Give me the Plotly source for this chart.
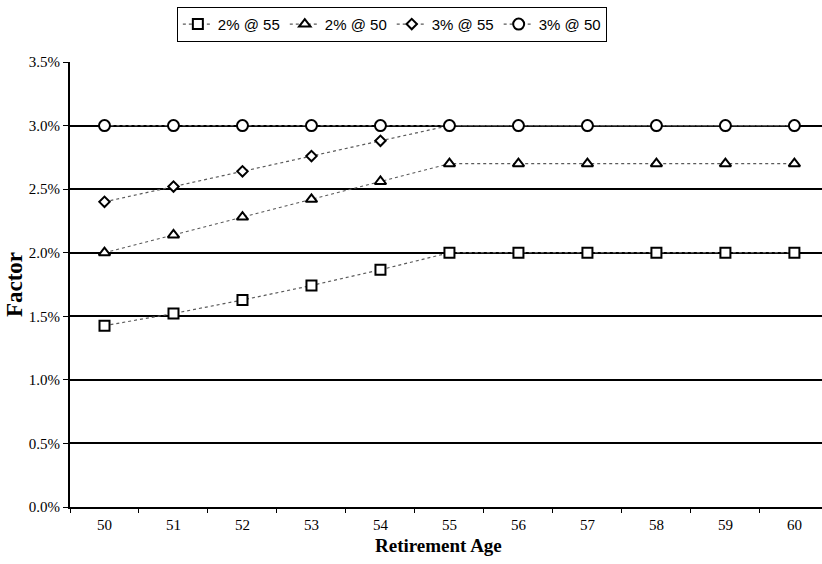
import plotly.graph_objects as go

# Retirement ages on the category axis
ages = ["50", "51", "52", "53", "54", "55", "56", "57", "58", "59", "60"]

# Benefit factor per year of service, by formula
factor_2_at_55 = [0.01426, 0.01522, 0.01628, 0.01742, 0.01866, 0.020,
                  0.020, 0.020, 0.020, 0.020, 0.020]
factor_2_at_50 = [0.0200, 0.0214, 0.0228, 0.0242, 0.0256, 0.0270,
                  0.0270, 0.0270, 0.0270, 0.0270, 0.0270]
factor_3_at_55 = [0.0240, 0.0252, 0.0264, 0.0276, 0.0288, 0.0300,
                  0.0300, 0.0300, 0.0300, 0.0300, 0.0300]
factor_3_at_50 = [0.0300, 0.0300, 0.0300, 0.0300, 0.0300, 0.0300,
                  0.0300, 0.0300, 0.0300, 0.0300, 0.0300]

series = [
    ("2% @ 55", factor_2_at_55, "square", 10),
    ("2% @ 50", factor_2_at_50, "triangle-up", 10),
    ("3% @ 55", factor_3_at_55, "diamond", 8),
    ("3% @ 50", factor_3_at_50, "circle", 11),
]

fig = go.Figure()
for name, values, symbol, size in series:
    fig.add_trace(go.Scatter(
        x=ages, y=values, name=name, mode="lines+markers",
        line=dict(color="#5a5a5a", width=1.2, dash="dot"),
        marker=dict(symbol=symbol, size=size, color="white",
                    line=dict(color="black", width=2)),
    ))

serif = "Liberation Serif"

fig.update_layout(
    width=822, height=564,
    margin=dict(l=70, r=0, t=62, b=57),
    paper_bgcolor="white", plot_bgcolor="white",
    font=dict(family=serif, color="black", size=15),
    showlegend=True,
    legend=dict(
        orientation="h", x=0.428, xanchor="center", y=1.124, yanchor="top",
        bordercolor="black", borderwidth=1, bgcolor="white",
        font=dict(family="Liberation Sans", size=15, color="black"),
    ),
    xaxis=dict(
        type="category", range=[-0.5, 10.4],
        tickson="boundaries", ticks="outside", ticklen=4, tickwidth=1.2,
        tickcolor="black", showgrid=False,
        showline=True, linecolor="black", linewidth=2,
        tickfont=dict(family=serif, size=15, color="black"),
        ticklabelstandoff=3,
    ),
    yaxis=dict(
        range=[0, 0.035], dtick=0.005, tickformat=".1%",
        ticks="outside", ticklen=5, tickwidth=1.2, tickcolor="black",
        showgrid=True, gridcolor="black", gridwidth=1.6,
        showline=True, linecolor="black", linewidth=2,
        zeroline=False,
        tickfont=dict(family=serif, size=15, color="black"),
        title=dict(text="<b>Factor</b>",
                   font=dict(family=serif, size=23, color="black"),
                   standoff=0),
    ),
    annotations=[dict(
        text="<b>Retirement Age</b>", xref="paper", yref="paper",
        x=0.49, y=-0.087, xanchor="center", yanchor="middle",
        showarrow=False, font=dict(family=serif, size=19, color="black"),
    )],
)

fig.write_html("out.html")
